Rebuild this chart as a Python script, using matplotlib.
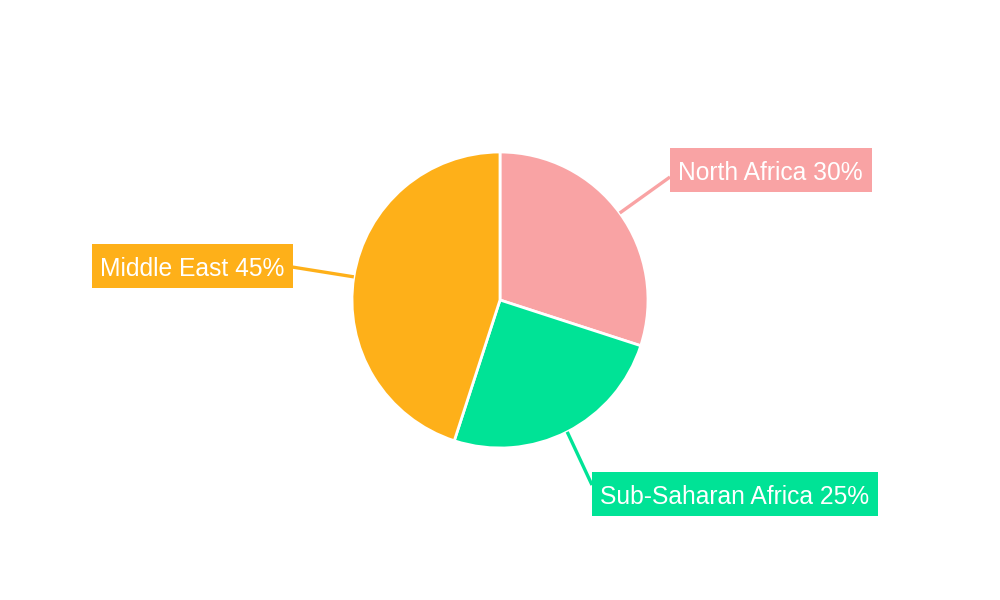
import numpy as np
import matplotlib.pyplot as plt
from matplotlib.patches import Rectangle

regions = ["North Africa", "Sub-Saharan Africa", "Middle East"]
shares = [30, 25, 45]
colors = ["#F9A3A4", "#00E396", "#FEB019"]

# where each label box sits (left edge x, centre y), pixel coords from top-left
label_pos = [(670, 170), (592, 494), (92, 266)]
# where the leader line meets the box
leader_end = [(670, 177), (592, 485), (292, 267)]

plt.rcParams['font.family'] = ['Liberation Sans', 'DejaVu Sans']

fig = plt.figure(figsize=(10, 6), dpi=100)
ax = fig.add_axes([0, 0, 1, 1])

cx, cy, r = 500, 300, 148
wedges, _ = ax.pie(shares, colors=colors, startangle=90, counterclock=False,
                   center=(cx, cy), radius=r, frame=True,
                   wedgeprops=dict(edgecolor='white', linewidth=2))
ax.set_xlim(0, 1000)
ax.set_ylim(0, 600)
ax.set_aspect('equal')
ax.axis('off')

renderer = fig.canvas.get_renderer()
pad_x, box_h = 8.5, 44

for w, name, val, col, (lx, ly), (bx, by) in zip(wedges, regions, shares, colors,
                                                  label_pos, leader_end):
    mid = np.deg2rad((w.theta1 + w.theta2) / 2)
    ex, ey = cx + r * np.cos(mid), cy + r * np.sin(mid)
    ax.plot([ex, bx], [ey, 600 - by], color=col, lw=2.4,
            solid_capstyle='butt', zorder=1)
    t = ax.text(lx + pad_x, 600 - (ly + 10), f"{name} {val}%", color='white',
                fontsize=17.75, ha='left', va='baseline', zorder=3)
    tw = t.get_window_extent(renderer).width
    ax.add_patch(Rectangle((lx, 600 - ly - box_h / 2), tw + 2 * pad_x, box_h,
                           fc=col, ec='none', zorder=2))

fig.savefig("out.png", dpi=100)
